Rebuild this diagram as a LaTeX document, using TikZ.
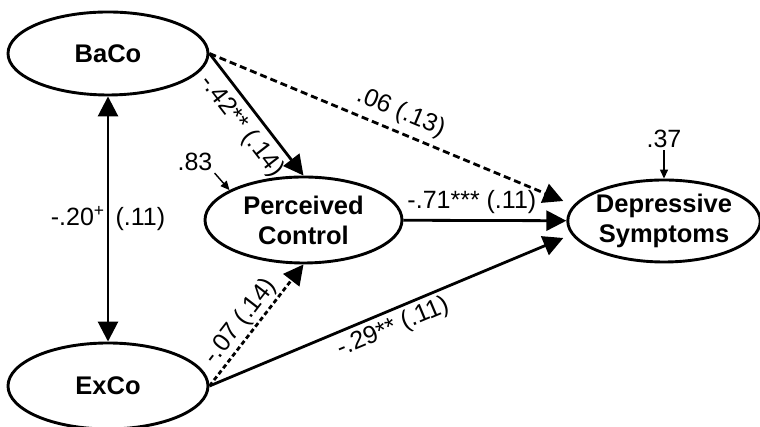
\documentclass[tikz,border=0pt]{standalone}
\usepackage{fontspec}
\setmainfont{Liberation Sans}
\usetikzlibrary{arrows.meta}
\usetikzlibrary{shapes.geometric}

\tikzset{
  latent/.style={draw, ellipse, line width=2.9pt, inner sep=0pt, align=center,
    font=\fontsize{25.5pt}{30pt}\selectfont\bfseries},
  effect/.style={line width=2.8pt, -{Triangle[length=20pt,width=20pt]}},
  nseffect/.style={effect, dash pattern=on 7pt off 4pt},
  nsshort/.style={effect, dash pattern=on 4.5pt off 3pt},
  coef/.style={font=\fontsize{25pt}{28pt}\selectfont, inner sep=2pt},
  resid/.style={line width=1.4pt, -{Triangle[length=9pt,width=8pt]}},
}

\begin{document}
\begin{tikzpicture}[x=1pt,y=1pt]
\useasboundingbox (0,0) rectangle (760,427);

%Shape: Ellipse [BaCo]
\node [latent, minimum width=200pt, minimum height=83pt] (BaCo) at (108,373.5) {BaCo};
%Shape: Ellipse [ExCo]
\node [latent, minimum width=200pt, minimum height=86pt] (ExCo) at (108,41) {ExCo};
%Shape: Ellipse [Perceived Control]
\node [latent, minimum width=197pt, minimum height=86pt] (PC) at (303.5,207) {Perceived\\Control};
%Shape: Ellipse [Depressive Symptoms]
\node [latent, minimum width=192pt, minimum height=82pt] (DS) at (664,206) {Depressive\\Symptoms};

%Straight Lines: covariance
\draw [effect, {Triangle[length=20pt,width=20pt]}-{Triangle[length=20pt,width=20pt]}] (BaCo) -- (ExCo)
  node [coef, midway] {-.20\textsuperscript{+}\hspace{11pt}(.11)};

%Straight Lines: paths into Perceived Control
\draw [effect] (BaCo.east) -- (PC.north)
  node [coef, midway, sloped, below=4pt] {-.42** (.14)};
\draw [nsshort] (ExCo.east) -- (PC.south)
  node [coef, pos=0.455, sloped, above=1.5pt, inner sep=0pt] {-.07 (.14)};

%Straight Lines: paths into Depressive Symptoms
\draw [nseffect] (BaCo.east) -- ([xshift=-3pt,yshift=20pt]DS.west)
  node [coef, pos=0.52, sloped, above=4pt] {.06 (.13)};
\draw [effect] (PC) -- (DS)
  node [coef, pos=0.42, above=3pt] {-.71*** (.11)};
\draw [effect] (ExCo.east) -- ([xshift=-3pt,yshift=-17pt]DS.west)
  node [coef, midway, sloped, below=2pt] {-.29** (.11)};

% Text Node: residuals
\node [coef] (r83) at (195,265) {.83};
\draw [resid] (r83.south east) -- (PC.158);
\node [coef] (r37) at (664,288) {.37};
\draw [resid] (r37) -- (DS);

\end{tikzpicture}
\end{document}
